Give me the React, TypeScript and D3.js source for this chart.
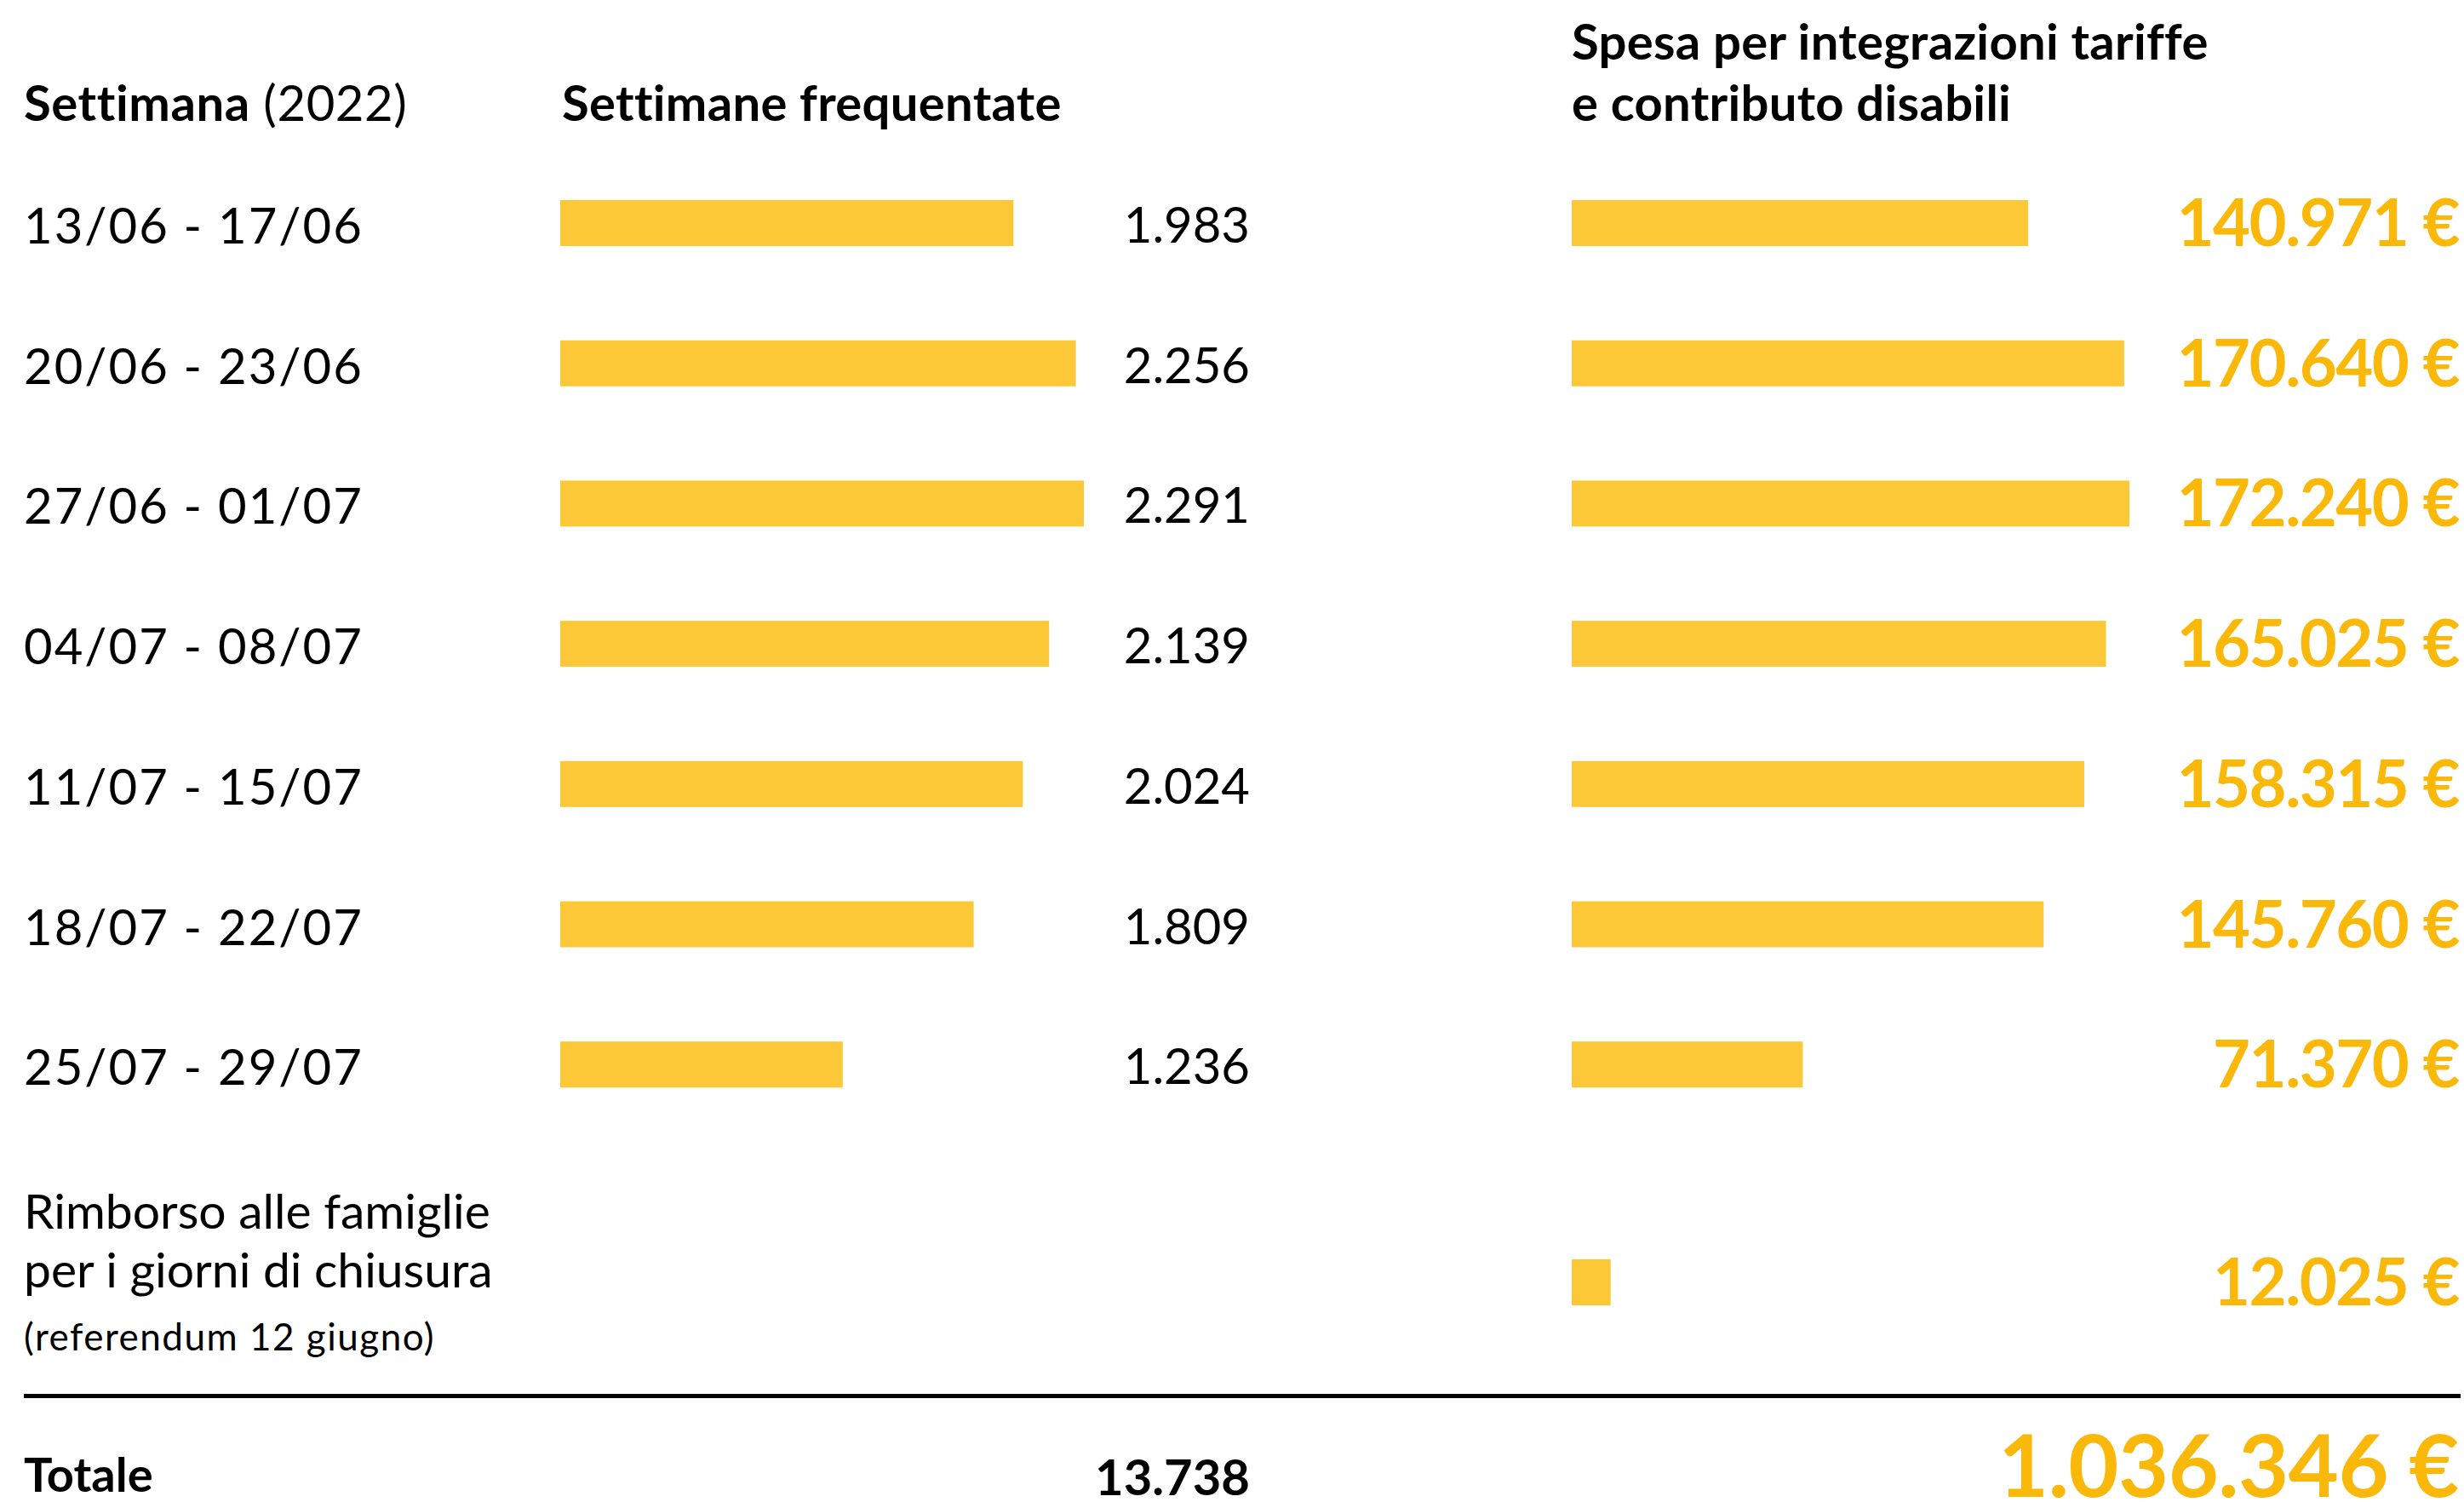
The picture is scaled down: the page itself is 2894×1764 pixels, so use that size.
import React from "react";
import * as d3 from "d3";

const weeks = [
  "13/06 - 17/06",
  "20/06 - 23/06",
  "27/06 - 01/07",
  "04/07 - 08/07",
  "11/07 - 15/07",
  "18/07 - 22/07",
  "25/07 - 29/07",
];
const attendance = [1983, 2256, 2291, 2139, 2024, 1809, 1236];
const spending = [140971, 170640, 172240, 165025, 158315, 145760, 71370];
const refundLines = ["Rimborso alle famiglie", "per i giorni di chiusura"];
const refundNote = "(referendum 12 giugno)";
const refundValue = 12025;
const totalAttendance = 13738;
const totalSpending = 1036346;

const W = 2894;
const H = 1764;
const FONT = "Lato, 'Noto Sans', sans-serif";
const BAR = "#FCC838";
const ORANGE = "#FAB90A";

const it = d3.formatLocale({ decimal: ",", thousands: ".", grouping: [3], currency: ["", " €"] });
const fmt = it.format(",d");
const eur = (v: number) => fmt(v) + " €";

export default function App() {
  const rowY = d3.scaleLinear().domain([0, 6]).range([262, 262 + 6 * 164.7]);
  const barH = 54;
  const xLeft = d3.scaleLinear().domain([0, 2291]).range([658, 658 + 615]);
  const xRight = d3.scaleLinear().domain([0, 172240]).range([1846, 1846 + 655]);
  const refundY = 1506;

  return (
    <div>
      <style>{`body{margin:0;background:#fff}`}</style>
      <svg width={W} height={H} style={{ display: "block" }} fontFamily={FONT}>
        <rect width={W} height={H} fill="#fff" />
        {/* headers */}
        <text x={28} y={142} fontSize={58} fill="#000" letterSpacing={0.6}>
          <tspan fontWeight={700}>Settimana</tspan>
          <tspan fontWeight={400}> (2022)</tspan>
        </text>
        <text x={660} y={142} fontSize={58} fontWeight={700} fill="#000" letterSpacing={0.3}>
          Settimane frequentate
        </text>
        <text x={1846} y={70} fontSize={58} fontWeight={700} fill="#000" letterSpacing={0.3}>
          Spesa per integrazioni tariffe
        </text>
        <text x={1846} y={142} fontSize={58} fontWeight={700} fill="#000" letterSpacing={0.3}>
          e contributo disabili
        </text>

        {weeks.map((w, i) => {
          const cy = rowY(i);
          return (
            <g key={w}>
              <text x={28} y={cy + 24} fontSize={58} fontWeight={400} fill="#000" letterSpacing={2}>
                {w}
              </text>
              <rect x={xLeft(0)} y={cy - barH / 2} width={xLeft(attendance[i]) - xLeft(0)} height={barH} fill={BAR} />
              <text x={1468} y={cy + 23} fontSize={58} textAnchor="end" fill="#000">
                {fmt(attendance[i])}
              </text>
              <rect x={xRight(0)} y={cy - barH / 2} width={xRight(spending[i]) - xRight(0)} height={barH} fill={BAR} />
              <text x={2888} y={cy + barH / 2} fontSize={76} fontWeight={700} textAnchor="end" fill={ORANGE} letterSpacing={-1.5}>
                {eur(spending[i])}
              </text>
            </g>
          );
        })}

        {/* refund row */}
        {refundLines.map((l, i) => (
          <text key={l} x={28} y={1443 + i * 69} fontSize={57} fill="#000">
            {l}
          </text>
        ))}
        <text x={28} y={1586} fontSize={44} fill="#000" letterSpacing={1.5}>
          {refundNote}
        </text>
        <rect x={xRight(0)} y={refundY - barH / 2} width={xRight(refundValue) - xRight(0)} height={barH} fill={BAR} />
        <text x={2888} y={refundY + barH / 2} fontSize={76} fontWeight={700} textAnchor="end" fill={ORANGE} letterSpacing={-1.5}>
          {eur(refundValue)}
        </text>

        {/* total */}
        <line x1={28} x2={2890} y1={1639.5} y2={1639.5} stroke="#000" strokeWidth={5} />
        <text x={28} y={1752} fontSize={56} fontWeight={700} fill="#000">
          Totale
        </text>
        <text x={1468} y={1756} fontSize={58} fontWeight={700} textAnchor="end" fill="#000">
          {fmt(totalAttendance)}
        </text>
        <text x={2888} y={1758} fontSize={102} fontWeight={700} textAnchor="end" fill={ORANGE} letterSpacing={-0.5}>
          {eur(totalSpending)}
        </text>
      </svg>
    </div>
  );
}
